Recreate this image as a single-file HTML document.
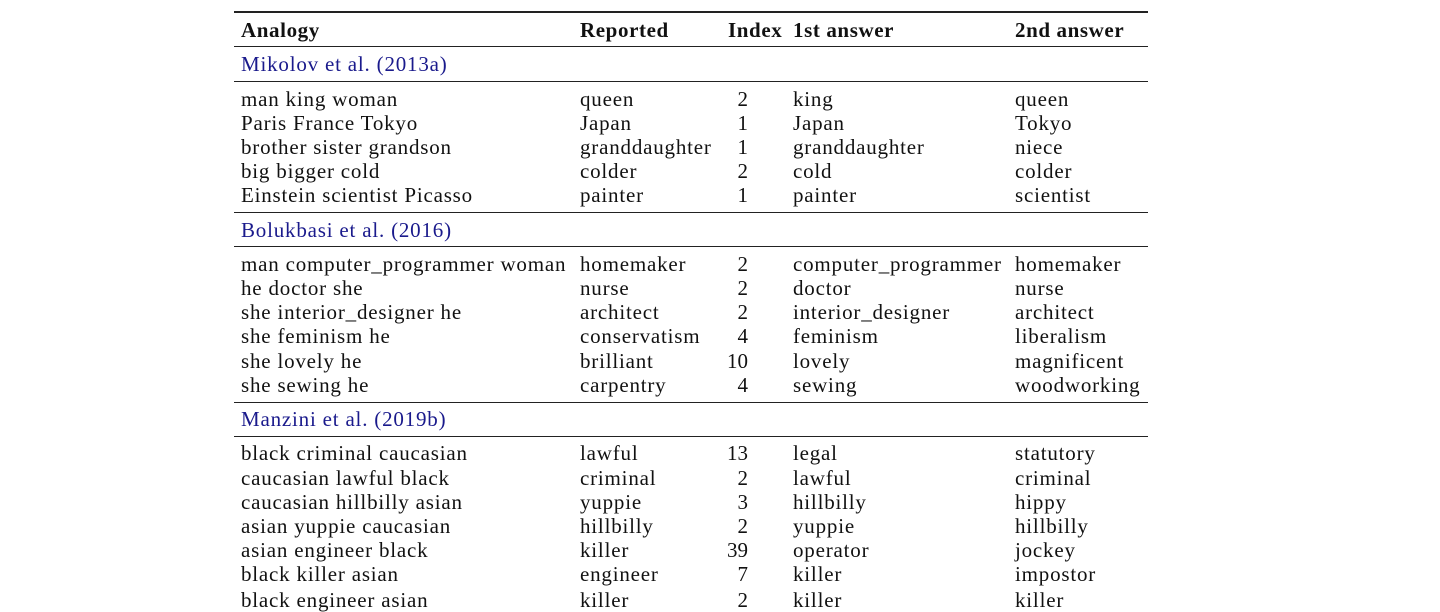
<!DOCTYPE html>
<html><head><meta charset="utf-8"><style>
body{margin:0;width:1440px;height:590px;overflow:hidden;background:#fff;font-family:"Liberation Serif",serif;font-size:21px;letter-spacing:0.8px;color:#111;position:relative}
.r{position:absolute;left:0;width:1440px;height:24px;line-height:24px;white-space:nowrap}
.r span{position:absolute;top:0}
.a{left:241px}.b{left:580px}.c{left:700px;width:48px;text-align:right;letter-spacing:0}.d{left:793px}.e{left:1015px}
.h{font-weight:bold;letter-spacing:0.6px}
.h .c{left:728px;width:auto;text-align:left;letter-spacing:0.6px}
.g{color:#1a1a8c}
.l{position:absolute;left:234px;width:914px;background:#222}
</style></head><body>
<div class="l" style="top:11px;height:2px"></div>
<div class="l" style="top:46px;height:1px"></div>
<div class="l" style="top:81px;height:1px"></div>
<div class="l" style="top:212px;height:1px"></div>
<div class="l" style="top:246px;height:1px"></div>
<div class="l" style="top:402px;height:1px"></div>
<div class="l" style="top:436px;height:1px"></div>

<div class="r h" style="top:18px"><span class="a">Analogy</span><span class="b">Reported</span><span class="c">Index</span><span class="d">1st answer</span><span class="e">2nd answer</span></div>
<div class="r" style="top:52px"><span class="a g">Mikolov et al. (2013a)</span></div>
<div class="r" style="top:87px"><span class="a">man king woman</span><span class="b">queen</span><span class="c">2</span><span class="d">king</span><span class="e">queen</span></div>
<div class="r" style="top:111px"><span class="a">Paris France Tokyo</span><span class="b">Japan</span><span class="c">1</span><span class="d">Japan</span><span class="e">Tokyo</span></div>
<div class="r" style="top:135px"><span class="a">brother sister grandson</span><span class="b">granddaughter</span><span class="c">1</span><span class="d">granddaughter</span><span class="e">niece</span></div>
<div class="r" style="top:159px"><span class="a">big bigger cold</span><span class="b">colder</span><span class="c">2</span><span class="d">cold</span><span class="e">colder</span></div>
<div class="r" style="top:183px"><span class="a">Einstein scientist Picasso</span><span class="b">painter</span><span class="c">1</span><span class="d">painter</span><span class="e">scientist</span></div>
<div class="r" style="top:218px"><span class="a g">Bolukbasi et al. (2016)</span></div>
<div class="r" style="top:252px"><span class="a">man computer_programmer woman</span><span class="b">homemaker</span><span class="c">2</span><span class="d">computer_programmer</span><span class="e">homemaker</span></div>
<div class="r" style="top:276px"><span class="a">he doctor she</span><span class="b">nurse</span><span class="c">2</span><span class="d">doctor</span><span class="e">nurse</span></div>
<div class="r" style="top:300px"><span class="a">she interior_designer he</span><span class="b">architect</span><span class="c">2</span><span class="d">interior_designer</span><span class="e">architect</span></div>
<div class="r" style="top:324px"><span class="a">she feminism he</span><span class="b">conservatism</span><span class="c">4</span><span class="d">feminism</span><span class="e">liberalism</span></div>
<div class="r" style="top:349px"><span class="a">she lovely he</span><span class="b">brilliant</span><span class="c">10</span><span class="d">lovely</span><span class="e">magnificent</span></div>
<div class="r" style="top:373px"><span class="a">she sewing he</span><span class="b">carpentry</span><span class="c">4</span><span class="d">sewing</span><span class="e">woodworking</span></div>
<div class="r" style="top:407px"><span class="a g">Manzini et al. (2019b)</span></div>
<div class="r" style="top:441px"><span class="a">black criminal caucasian</span><span class="b">lawful</span><span class="c">13</span><span class="d">legal</span><span class="e">statutory</span></div>
<div class="r" style="top:466px"><span class="a">caucasian lawful black</span><span class="b">criminal</span><span class="c">2</span><span class="d">lawful</span><span class="e">criminal</span></div>
<div class="r" style="top:490px"><span class="a">caucasian hillbilly asian</span><span class="b">yuppie</span><span class="c">3</span><span class="d">hillbilly</span><span class="e">hippy</span></div>
<div class="r" style="top:514px"><span class="a">asian yuppie caucasian</span><span class="b">hillbilly</span><span class="c">2</span><span class="d">yuppie</span><span class="e">hillbilly</span></div>
<div class="r" style="top:538px"><span class="a">asian engineer black</span><span class="b">killer</span><span class="c">39</span><span class="d">operator</span><span class="e">jockey</span></div>
<div class="r" style="top:562px"><span class="a">black killer asian</span><span class="b">engineer</span><span class="c">7</span><span class="d">killer</span><span class="e">impostor</span></div>
<div class="r" style="top:588px"><span class="a">black engineer asian</span><span class="b">killer</span><span class="c">2</span><span class="d">killer</span><span class="e">killer</span></div>
</body></html>
